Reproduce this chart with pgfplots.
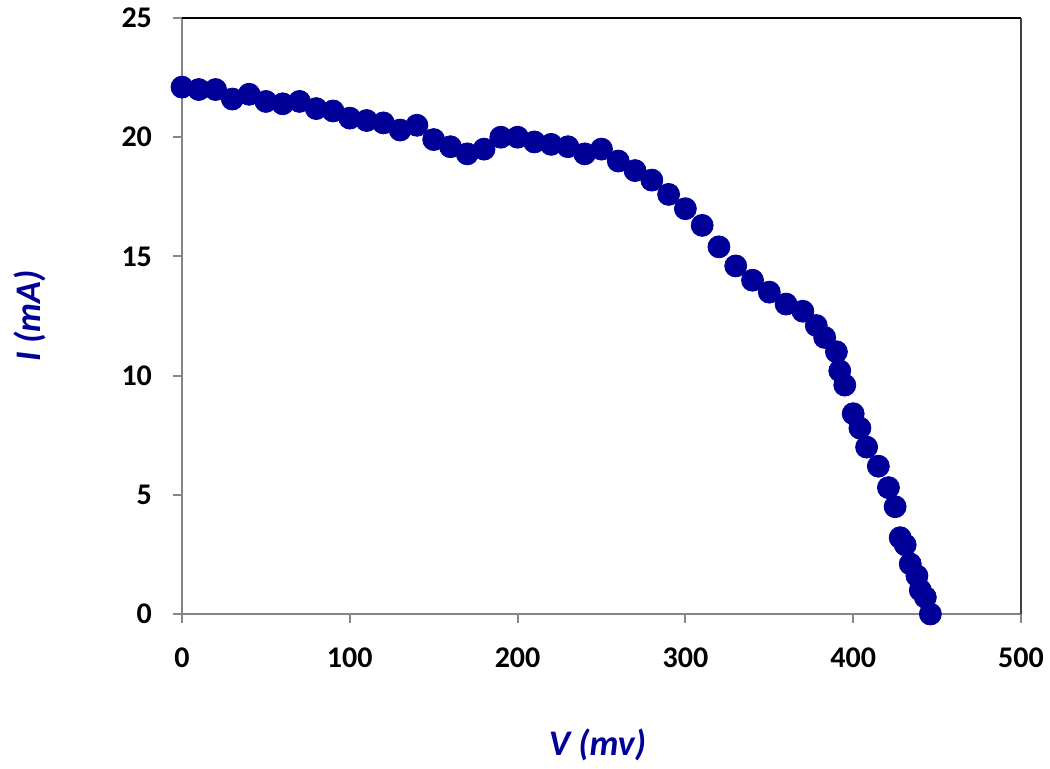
\documentclass[border=0pt]{standalone}
\usepackage{pgfplots}
\pgfplotsset{compat=1.18}
\usepackage{fontspec}
\setmainfont{Carlito}
\definecolor{dblue}{RGB}{0,0,153}
\definecolor{axgray}{RGB}{134,134,134}
\begin{document}
\begin{tikzpicture}
\useasboundingbox (-91pt,-77.5pt) rectangle (434pt,307pt);
\begin{axis}[
  scale only axis, width=419.5pt, height=298pt,
  xmin=0, xmax=500, ymin=0, ymax=25,
  xtick={0,100,...,500}, ytick={0,5,...,25},
  axis x line*=bottom, axis y line*=left,
  axis line style={axgray, line width=1pt, -},
  tick style={axgray, line width=1pt},
  tick align=outside, major tick length=4.5pt,
  clip=false,
  ticklabel style={font=\fontsize{15}{17}\selectfont\bfseries, black},
  /pgf/number format/assume math mode=true,
  xticklabel style={yshift=-9pt},
  yticklabel style={xshift=-7pt},
  xlabel={\textit{V (mv)}}, ylabel={\textit{I (mA)}},
  label style={font=\fontsize{18}{20}\selectfont\bfseries, dblue},
  xlabel style={at={(axis description cs:0.5,0)}, anchor=center, yshift=-65.5pt, xshift=-2pt},
  ylabel style={at={(axis description cs:0,0.5)}, anchor=center, yshift=76pt},
]
\draw[black, line width=0.6pt] (rel axis cs:0,1) -- (rel axis cs:1,1);
\draw[black!75, line width=0.6pt] (rel axis cs:1,1) -- (rel axis cs:1,0);
\addplot[only marks, mark=*, mark size=5.5pt, mark options={fill=dblue, draw=dblue}] coordinates {
(0,22.1)(10,22.0)(20,22.0)(30,21.6)(40,21.8)(50,21.5)(60,21.4)(70,21.5)(80,21.2)(90,21.1)
(100,20.8)(110,20.7)(120,20.6)(130,20.3)(140,20.5)(150,19.9)(160,19.6)(170,19.3)(180,19.5)(190,20.0)
(200,20.0)(210,19.8)(220,19.7)(230,19.6)(240,19.3)(250,19.5)(260,19.0)(270,18.6)(280,18.2)(290,17.6)
(300,17.0)(310,16.3)(320,15.4)(330,14.6)(340,14.0)(350,13.5)(360,13.0)(370,12.7)(378,12.1)(383,11.6)
(390,11.0)(392,10.2)(395,9.6)(400,8.4)(404,7.8)(408,7.0)(415,6.2)(421,5.3)(425,4.5)(428,3.2)
(431,2.9)(434,2.1)(438,1.6)(440,1.0)(443,0.7)(446,0.0)
};
\end{axis}
\end{tikzpicture}
\end{document}
